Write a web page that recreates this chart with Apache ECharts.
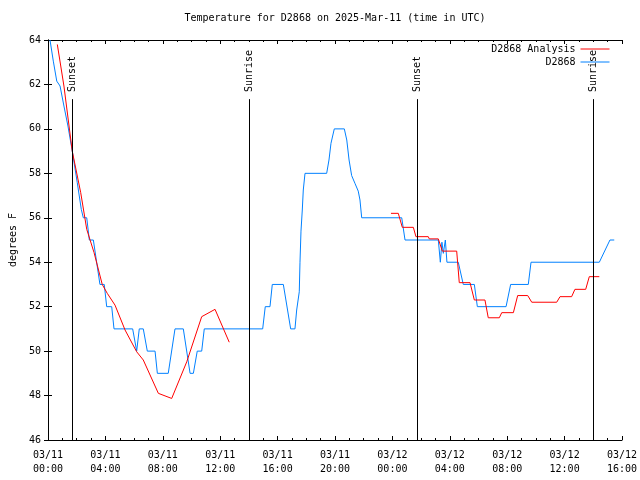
<!DOCTYPE html>
<html>
<head>
<meta charset="utf-8">
<script src="https://cdn.jsdelivr.net/npm/echarts@6/dist/echarts.min.js"></script>
<style>html,body{margin:0;padding:0;background:#fff}#c{width:640px;height:480px}</style>
</head>
<body>
<div id="c"></div>
<script>
// Hours since 03/11 00:00 UTC
const xTickLabels = ['03/11\n00:00','03/11\n04:00','03/11\n08:00','03/11\n12:00','03/11\n16:00','03/11\n20:00','03/12\n00:00','03/12\n04:00','03/12\n08:00','03/12\n12:00','03/12\n16:00'];

const obsTimes = [0.14,0.37,0.61,0.84,1.11,1.39,1.69,2.04,2.32,2.46,2.70,2.88,3.16,3.62,3.92,4.09,4.44,4.60,5.90,6.18,6.36,6.64,6.92,7.46,7.62,8.38,8.85,9.43,9.90,10.13,10.40,10.71,10.89,14.96,15.14,15.47,15.63,16.40,16.91,17.21,17.33,17.51,17.56,17.63,17.72,17.79,17.91,19.42,19.58,19.72,19.95,20.65,20.82,20.98,21.16,21.39,21.62,21.74,21.86,24.65,24.88,27.20,27.34,27.45,27.55,27.69,27.80,28.59,28.94,29.71,29.92,31.92,32.24,33.47,33.66,38.42,39.16,39.46];
const obsValues = [64.0,63.05,62.15,61.93,61.03,60.13,59.0,57.58,56.38,56.0,56.0,55.0,55.0,53.0,53.0,52.0,52.0,51.0,51.0,50.0,51.0,51.0,50.0,50.0,49.0,49.0,51.0,51.0,49.0,49.0,50.0,50.0,51.0,51.0,52.0,52.0,53.0,53.0,51.0,51.0,51.85,52.67,54.0,55.4,56.35,57.25,58.0,58.0,58.6,59.35,60.0,60.0,59.5,58.6,57.9,57.55,57.2,56.8,56.0,56.0,55.0,55.0,54.0,54.9,54.4,55.0,54.0,54.0,53.0,53.0,52.0,52.0,53.0,53.0,54.0,54.0,55.0,55.0];

const anaTimes1 = [0.65,1.11,1.69,2.28,2.70,3.21,3.78,4.13,4.67,5.37,6.18,6.64,7.69,8.62,9.67,10.71,11.64,12.63];
const anaValues1 = [63.8,61.93,59.0,57.13,55.48,54.43,53.0,52.6,52.07,50.95,49.97,49.6,48.1,47.87,49.52,51.55,51.88,50.4];

const anaTimes2 = [23.90,24.41,24.69,25.46,25.64,26.50,26.57,27.20,27.48,28.48,28.66,29.41,29.71,30.45,30.68,31.45,31.62,32.43,32.73,33.43,33.71,35.45,35.68,36.49,36.72,37.47,37.72,38.42];
const anaValues2 = [56.2,56.2,55.57,55.57,55.15,55.15,55.05,55.05,54.5,54.5,53.08,53.08,52.3,52.3,51.5,51.5,51.73,51.73,52.5,52.5,52.2,52.2,52.45,52.45,52.78,52.78,53.35,53.35];

const sunNames = ['Sunset','Sunrise','Sunset','Sunrise'];
const sunTimes = [1.69,14.03,25.74,38.0];

const yMin = 46, yMax = 64, yStep = 2;
const sunLineTop = 61.34;

const pairs = (t, v) => t.map((x, i) => [x, v[i]]);
const anaData = pairs(anaTimes1, anaValues1).concat([[null, null]], pairs(anaTimes2, anaValues2));

const FONT = 'DejaVu Sans Mono';
const txt = {fontFamily: FONT, fontSize: 10, color: '#000'};

const markData = [];
sunTimes.forEach((t, i) => {
  markData.push([{coord: [t, yMin]}, {coord: [t, sunLineTop]}]);
  markData.push([{coord: [t, sunLineTop]}, {coord: [t, yMax],
    lineStyle: {color: 'rgba(0,0,0,0)', opacity: 1},
    label: {show: true, position: 'insideStart', distance: 7, formatter: sunNames[i], opacity: 1,
      fontFamily: FONT, fontSize: 10, color: '#000'}}]);
});

const chart = echarts.init(document.getElementById('c'), null, {renderer: 'canvas'});
chart.setOption({
  animation: false,
  backgroundColor: '#fff',
  title: {
    text: 'Temperature for D2868 on 2025-Mar-11 (time in UTC)',
    left: 335, top: 13, textAlign: 'center', padding: 0,
    textStyle: {fontFamily: FONT, fontSize: 10, fontWeight: 'normal', color: '#000'}
  },
  legend: {
    orient: 'vertical', right: 30, top: 44, align: 'right',
    itemWidth: 29, itemHeight: 10, itemGap: 3, padding: 0,
    data: ['D2868 Analysis', 'D2868'],
    itemStyle: {opacity: 0},
    lineStyle: {width: 1},
    textStyle: txt, selectedMode: false
  },
  grid: {left: 48, right: 18, top: 40, bottom: 40, containLabel: false, outerBoundsMode: 'none'},
  xAxis: [{
    type: 'value', min: 0, max: 40, interval: 4,
    axisLine: {lineStyle: {color: '#000', width: 1}},
    axisTick: {inside: true, length: 4, lineStyle: {color: '#000'}},
    minorTick: {show: true, splitNumber: 4, length: 2, lineStyle: {color: '#000'}},
    splitLine: {show: false},
    axisLabel: Object.assign({margin: 8, lineHeight: 14, formatter: v => xTickLabels[Math.round(v / 4)]}, txt)
  }, {
    type: 'value', min: 0, max: 40, interval: 4, position: 'top',
    axisLine: {lineStyle: {color: '#000', width: 1}},
    axisTick: {inside: true, length: 4, lineStyle: {color: '#000'}},
    minorTick: {show: true, splitNumber: 4, length: 2, lineStyle: {color: '#000'}},
    splitLine: {show: false}, axisLabel: {show: false}
  }],
  yAxis: [{
    type: 'value', min: yMin, max: yMax, interval: yStep,
    name: 'degrees F', nameLocation: 'middle', nameGap: 30, nameRotate: 90,
    nameTextStyle: txt,
    axisLine: {lineStyle: {color: '#000', width: 1}},
    axisTick: {inside: true, length: 4, lineStyle: {color: '#000'}},
    splitLine: {show: false},
    axisLabel: Object.assign({margin: 7}, txt)
  }, {
    type: 'value', min: yMin, max: yMax, interval: yStep, position: 'right',
    axisLine: {lineStyle: {color: '#000', width: 1}},
    axisTick: {inside: true, length: 4, lineStyle: {color: '#000'}},
    splitLine: {show: false}, axisLabel: {show: false}
  }],
  series: [{
    name: 'D2868 Analysis', type: 'line', data: anaData,
    symbol: 'none', showSymbol: false, connectNulls: false,
    lineStyle: {color: '#ff0000', width: 1}, itemStyle: {color: '#ff0000'},
    z: 3
  }, {
    name: 'D2868', type: 'line', data: pairs(obsTimes, obsValues),
    symbol: 'none', showSymbol: false,
    lineStyle: {color: '#0080ff', width: 1}, itemStyle: {color: '#0080ff'},
    z: 2,
    markLine: {
      silent: true, symbol: ['none', 'none'], animation: false,
      lineStyle: {color: '#000', width: 1, type: 'solid'},
      label: {show: false},
      data: markData
    }
  }]
});
</script>
</body>
</html>
